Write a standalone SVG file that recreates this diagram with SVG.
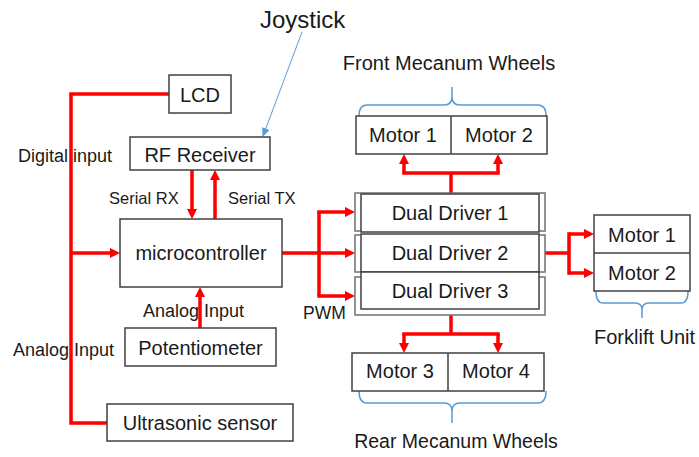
<svg xmlns="http://www.w3.org/2000/svg" width="699" height="457" viewBox="0 0 699 457">
<style>
text{font-family:"Liberation Sans",Arial,sans-serif;fill:#1a1a1a}
.bt{font-size:20px;text-anchor:middle}
.lb{font-size:18px}
.box{fill:#fff;stroke:#404040;stroke-width:1.5}
.outer{fill:#fff;stroke:#707070;stroke-width:1.5}
.red{fill:none;stroke:#ff0000;stroke-width:3.5}
.redA{fill:none;stroke:#ff0000;stroke-width:3.5;marker-end:url(#ah)}
.brace{fill:none;stroke:#5b9bd5;stroke-width:1.5}
</style>
<defs>
<marker id="ah" markerUnits="userSpaceOnUse" markerWidth="10" markerHeight="10" refX="6" refY="5" orient="auto">
<path d="M0,0 L10,5 L0,10 z" fill="#ff0000"/>
</marker>
<marker id="bh" markerUnits="userSpaceOnUse" markerWidth="9" markerHeight="8" refX="8" refY="4" orient="auto">
<path d="M0,0 L9,4 L0,8 z" fill="#5b9bd5"/>
</marker>
</defs>
<rect width="699" height="457" fill="#fff"/>
<g id="labels">
<text x="260" y="28" style="font-size:24px">Joystick</text>
<text x="449" y="70" class="bt">Front Mecanum Wheels</text>
<text x="456" y="448" class="bt" style="font-size:19.5px">Rear Mecanum Wheels</text>
<text x="594" y="344" style="font-size:20px">Forklift Unit</text>
<text x="18" y="162" class="lb">Digital input</text>
<text x="109" y="204" class="lb" style="font-size:16.5px">Serial RX</text>
<text x="228" y="204" class="lb" style="font-size:16.5px">Serial TX</text>
<text x="143" y="317" class="lb">Analog Input</text>
<text x="13" y="356" class="lb">Analog Input</text>
<text x="303" y="319" class="lb" style="font-size:17.5px">PWM</text>
</g>
<g id="connectors">
<path class="red" d="M169,94 H71 V423 H107"/>
<path class="redA" d="M71,253 H116"/>
<path class="redA" d="M192,170 V215"/>
<path class="redA" d="M215,219 V174"/>
<path class="redA" d="M200,328 V291"/>
<path class="red" d="M282,253 H319 M319,212 V296"/>
<path class="redA" d="M319,253 H351"/>
<path class="redA" d="M317.25,212 H351"/>
<path class="redA" d="M317.25,296 H351"/>
<path class="red" d="M451,193 V173 M402.25,173 H499.75"/>
<path class="redA" d="M404,173 V158"/>
<path class="redA" d="M498,173 V158"/>
<path class="red" d="M451,315 V334 M402.25,334 H499.75"/>
<path class="redA" d="M404,334 V349"/>
<path class="redA" d="M498,334 V349"/>
<path class="red" d="M545,253 H569 M569,232.25 V274.75"/>
<path class="redA" d="M569,234 H590"/>
<path class="redA" d="M569,273 H590"/>
<path fill="none" stroke="#5b9bd5" stroke-width="1" marker-end="url(#bh)" d="M302,32 L263,136"/>
<path class="brace" d="M359,116 Q359,105 367,105 H444 Q452,105 452,97 V87 M452,97 Q452,105 460,105 H538 Q546,105 546,116"/>
<path class="brace" d="M359,391 Q359,403 367,403 H444 Q452,403 452,411 V423 M452,411 Q452,403 460,403 H538 Q546,403 546,391"/>
<path class="brace" d="M596,291 Q596,303 603,303 H635 Q642,303 642,310 V318 M642,310 Q642,303 649,303 H681 Q688,303 688,291"/>
</g>
<g id="lcd"><rect class="box" x="169" y="75" width="62" height="38"/><text x="200" y="102" class="bt">LCD</text></g>
<g id="rf"><rect class="box" x="130" y="137" width="140" height="33"/><text x="200" y="162" class="bt">RF Receiver</text></g>
<g id="mcu"><rect class="box" x="120" y="219" width="162" height="68"/><text x="201" y="260" class="bt">microcontroller</text></g>
<g id="pot"><rect class="box" x="125" y="328" width="151" height="38"/><text x="200.5" y="355" class="bt">Potentiometer</text></g>
<g id="us"><rect class="box" x="107" y="404" width="186" height="37"/><text x="200" y="430" class="bt">Ultrasonic sensor</text></g>
<g id="driver1"><rect class="outer" x="355" y="193" width="190" height="38"/><rect class="box" x="361" y="194" width="178" height="38"/><text x="450" y="220" class="bt">Dual Driver 1</text></g>
<g id="driver2"><rect class="outer" x="355" y="235" width="190" height="37"/><rect class="box" x="361" y="234" width="178" height="38"/><text x="450" y="260" class="bt">Dual Driver 2</text></g>
<g id="driver3"><rect class="outer" x="355" y="277" width="190" height="38"/><rect class="box" x="361" y="272" width="178" height="37"/><text x="450" y="298" class="bt">Dual Driver 3</text></g>
<g id="front-motors"><rect class="box" x="356" y="116" width="191" height="38"/><line x1="451" y1="116" x2="451" y2="154" stroke="#404040" stroke-width="1.5"/><text x="403" y="142" class="bt">Motor 1</text><text x="499" y="142" class="bt">Motor 2</text></g>
<g id="rear-motors"><rect class="box" x="352" y="353" width="192" height="38"/><line x1="448" y1="353" x2="448" y2="391" stroke="#404040" stroke-width="1.5"/><text x="400" y="378" class="bt">Motor 3</text><text x="496" y="378" class="bt">Motor 4</text></g>
<g id="forklift-motors"><rect class="box" x="594" y="215" width="96" height="76"/><line x1="594" y1="253" x2="690" y2="253" stroke="#404040" stroke-width="1.5"/><text x="642" y="242" class="bt">Motor 1</text><text x="642" y="280" class="bt">Motor 2</text></g>
</svg>
